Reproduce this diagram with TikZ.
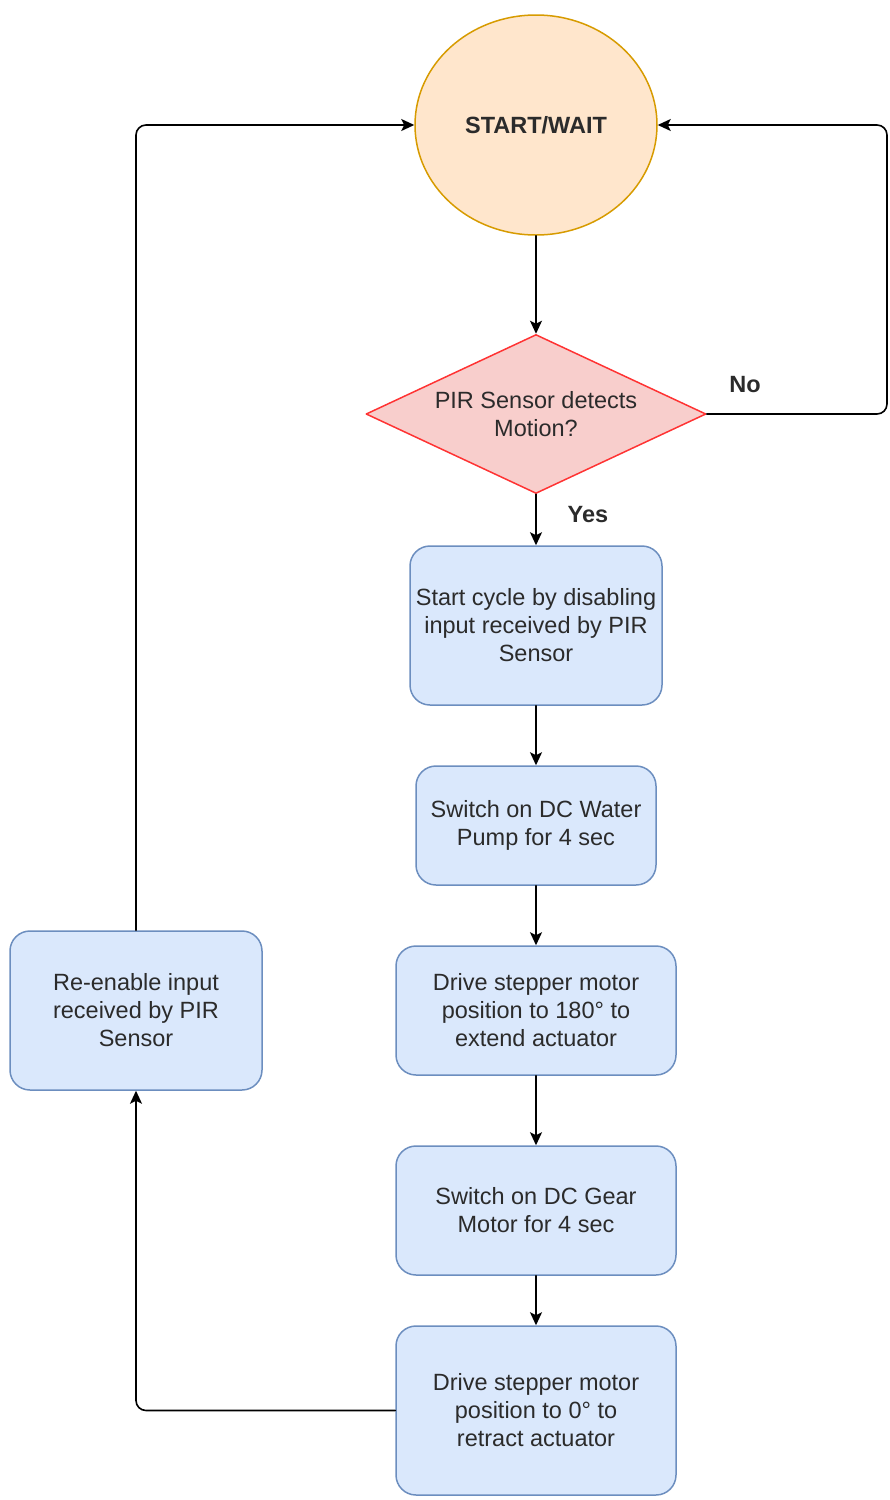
\documentclass[tikz,border=0pt]{standalone}
\usepackage{fontspec}
\setmainfont{Liberation Sans}
\usetikzlibrary{arrows.meta,positioning,shapes.geometric}

\definecolor{startfill}{HTML}{FFE6CC}
\definecolor{startline}{HTML}{D79B00}
\definecolor{askfill}{HTML}{F8CECC}
\definecolor{askline}{HTML}{FF3333}
\definecolor{boxfill}{HTML}{DAE8FC}
\definecolor{boxline}{HTML}{6C8EBF}
\definecolor{txt}{HTML}{2B2B2B}

\begin{document}
\begin{tikzpicture}[x=1pt, y=-1pt, >={Stealth[length=13pt,width=12pt,inset=3pt]},
		line cap=round, line join=round,
		font=\fontsize{23.5}{28}\selectfont,
		stepbox/.style={draw=boxline, fill=boxfill, rounded corners=20pt, line width=1.5pt,
			align=center, text=txt, inner sep=2pt},
		flow/.style={->, line width=1.6pt, rounded corners=10pt},
		lbl/.style={font=\fontsize{23.5}{28}\selectfont\bfseries, text=txt}]
	
	\useasboundingbox (0,0) rectangle (890,1500);
	
	% start and decision
	\node[ellipse, draw=startline, fill=startfill, line width=1.5pt, inner sep=0pt,
		minimum width=242pt, minimum height=220pt, text=txt, font=\fontsize{23.5}{28}\selectfont\bfseries]
		(start) at (536,125) {START/WAIT};
	\node[diamond, draw=askline, fill=askfill, line width=1.5pt, inner sep=0pt, aspect=2.14,
		minimum width=340pt, minimum height=159pt, align=center, text=txt]
		(pir) at (536,414) {PIR Sensor detects\\Motion?};
	
	% main column
	\node[stepbox, minimum width=252pt, minimum height=159pt] (cycle) at (536,625.5)
		{Start cycle by disabling\\input received by PIR\\Sensor};
	\node[stepbox, minimum width=240pt, minimum height=119pt] (pump) at (536,825.5)
		{Switch on DC Water\\Pump for 4 sec};
	\node[stepbox, minimum width=280pt, minimum height=129pt] (extend) at (536,1010.5)
		{Drive stepper motor\\position to 180° to\\extend actuator};
	\node[stepbox, minimum width=280pt, minimum height=129pt] (gear) at (536,1210.5)
		{Switch on DC Gear\\Motor for 4 sec};
	\node[stepbox, minimum width=280pt, minimum height=169pt] (retract) at (536,1410.5)
		{Drive stepper motor\\position to 0° to\\retract actuator};
	
	% back to start
	\node[stepbox, minimum width=252pt, minimum height=159pt] (reenable) at (136,1010.5)
		{Re-enable input\\received by PIR\\Sensor};
	
	\node[lbl] (yes) at (588,515) {Yes};
	\node[lbl] (no) at (745,385) {No};
	\coordinate (noturn) at (887,414);
	
	\draw[flow] (start) -- (pir);
	\draw[flow] (pir) -- (cycle);
	\draw[flow] (cycle) -- (pump);
	\draw[flow] (pump) -- (extend);
	\draw[flow] (extend) -- (gear);
	\draw[flow] (gear) -- (retract);
	\draw[flow] (pir.east) -- (noturn) |- (start.east);
	\draw[flow] (retract.west) -| (reenable.south);
	\draw[flow] (reenable.north) |- (start.west);
	
\end{tikzpicture}
\end{document}
